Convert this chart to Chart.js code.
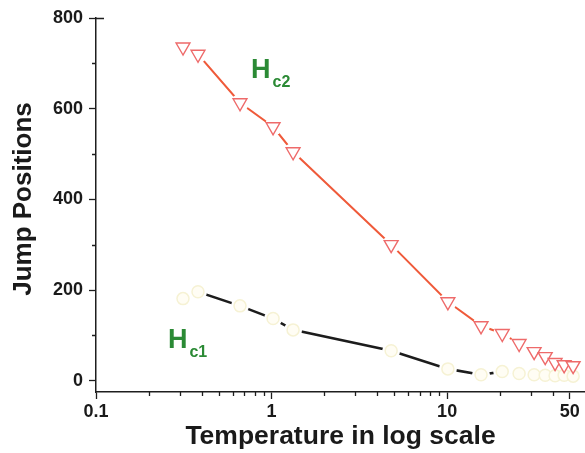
<!DOCTYPE html>
<html>
<head>
<meta charset="utf-8">
<script src="https://cdn.jsdelivr.net/npm/chart.js@4/dist/chart.umd.min.js"></script>
<style>
  html, body { margin: 0; padding: 0; background: #fff; }
  #wrap { width: 585px; height: 453px; }
</style>
</head>
<body>
<div id="wrap"><canvas id="c" width="585" height="453"></canvas></div>
<script>
// Measured jump positions versus temperature (log axis)
const temperatures = [0.313, 0.381, 0.661, 1.02, 1.326, 4.8, 10.1, 15.6, 20.6, 25.7, 31.3, 36.2, 41.2, 46.4, 52.2];
const hc2Jumps = [736, 720, 613, 560, 505, 300, 174, 121, 104, 82, 64, 53, 40, 35, 33];
const hc1Jumps = [181, 196, 165, 137, 112, 66, 26, 13, 20, 16, 13, 12, 11, 12, 10];

// Axis ticks
const xMajorTicks = [0.1, 1, 10, 50];
const xMinorTicks = [0.2, 0.3, 0.4, 0.5, 0.6, 0.7, 0.8, 0.9, 2, 3, 4, 5, 6, 7, 8, 9, 20, 30, 40];
const yMajorTicks = [0, 200, 400, 600, 800];
const yMinorTicks = [100, 300, 500, 700];

// Series labels, anchored in data units
const seriesLabels = [
  { main: 'H', sub: 'c2', x: 0.764, y: 668 },
  { main: 'H', sub: 'c1', x: 0.257, y: 73 }
];

const AXIS = '#1e1e1e';
const RED_LINE = '#ef5a3a';
const RED_MARK = '#ee6a6a';
const GREEN = '#2b8a35';
const PALE = '#f6f2d4';
const FONT = '"Liberation Sans", Arial, sans-serif';

const toPoints = ys => temperatures.map((t, i) => ({ x: t, y: ys[i] }));

// Draws minor ticks, the top corner stub, axis titles and the H labels
const decorations = {
  id: 'decorations',
  afterDraw(chart) {
    const { ctx, chartArea: a, scales: { x, y } } = chart;
    ctx.save();
    ctx.strokeStyle = AXIS;
    ctx.lineWidth = 1.3;
    ctx.beginPath();
    xMinorTicks.forEach(v => {
      const px = Math.round(x.getPixelForValue(v)) + 0.5;
      ctx.moveTo(px, a.bottom);
      ctx.lineTo(px, a.bottom + 4);
    });
    yMinorTicks.forEach(v => {
      const py = Math.round(y.getPixelForValue(v)) + 0.5;
      ctx.moveTo(a.left - 4, py);
      ctx.lineTo(a.left, py);
    });
    const top = Math.round(a.top) + 0.5;
    ctx.moveTo(a.left, top);
    ctx.lineTo(a.left + 8, top);
    ctx.stroke();

    // axis titles
    ctx.fillStyle = '#1a1a1a';
    ctx.font = 'bold 26.5px ' + FONT;
    ctx.textAlign = 'center';
    ctx.textBaseline = 'alphabetic';
    ctx.fillText('Temperature in log scale', (a.left + a.right) / 2, 444);
    ctx.save();
    ctx.translate(31, (a.top + a.bottom) / 2 - 6);
    ctx.rotate(-Math.PI / 2);
    ctx.font = 'bold 26px ' + FONT;
    ctx.fillText('Jump Positions', 0, 0);
    ctx.restore();

    // series labels
    ctx.fillStyle = GREEN;
    ctx.textAlign = 'left';
    seriesLabels.forEach(l => {
      const px = x.getPixelForValue(l.x);
      const py = y.getPixelForValue(l.y);
      ctx.font = 'bold 27px ' + FONT;
      ctx.fillText(l.main, px, py);
      const w = ctx.measureText(l.main).width;
      ctx.font = 'bold 16px ' + FONT;
      ctx.fillText(l.sub, px + w + 2, py + 9);
    });
    ctx.restore();
  }
};

new Chart(document.getElementById('c'), {
  type: 'line',
  data: {
    datasets: [
      // markers (drawn last)
      {
        label: 'Hc2', data: toPoints(hc2Jumps), order: 1, showLine: false,
        pointStyle: 'triangle', rotation: 180, pointRadius: 8,
        pointBackgroundColor: '#ffffff', pointBorderColor: RED_MARK, pointBorderWidth: 1.4
      },
      {
        label: 'Hc1', data: toPoints(hc1Jumps), order: 2, showLine: false,
        pointStyle: 'circle', pointRadius: 6,
        pointBackgroundColor: '#fffdf4', pointBorderColor: PALE, pointBorderWidth: 1.5
      },
      // white halos that open a gap in the lines around each marker
      {
        label: 'gap2', data: toPoints(hc2Jumps), order: 3, showLine: false,
        pointStyle: 'circle', pointRadius: 9, pointBorderWidth: 0,
        pointBackgroundColor: '#ffffff', pointBorderColor: '#ffffff'
      },
      {
        label: 'gap1', data: toPoints(hc1Jumps), order: 4, showLine: false,
        pointStyle: 'circle', pointRadius: 9, pointBorderWidth: 0,
        pointBackgroundColor: '#ffffff', pointBorderColor: '#ffffff'
      },
      // connecting lines (drawn first)
      {
        label: 'line2', data: toPoints(hc2Jumps), order: 5,
        borderColor: RED_LINE, borderWidth: 2, pointRadius: 0, tension: 0, fill: false
      },
      {
        label: 'line1', data: toPoints(hc1Jumps), order: 6,
        borderColor: '#1c1c1c', borderWidth: 2.6, pointRadius: 0, tension: 0, fill: false
      }
    ]
  },
  options: {
    responsive: false,
    animation: false,
    devicePixelRatio: 1,
    layout: { autoPadding: false, padding: { top: 18, right: 0, left: 0, bottom: 0 } },
    plugins: { legend: { display: false }, tooltip: { enabled: false } },
    scales: {
      x: {
        type: 'logarithmic',
        min: 0.1,
        max: 61,
        afterBuildTicks: s => { s.ticks = xMajorTicks.map(v => ({ value: v, major: true })); },
        afterFit: s => { s.height = 61; s.paddingRight = 0; s.paddingLeft = 0; },
        ticks: {
          autoSkip: false, maxRotation: 0, padding: 2,
          color: '#1a1a1a',
          font: { family: FONT, size: 18, weight: 'bold' },
          callback: v => String(v)
        },
        grid: { drawOnChartArea: false, tickLength: 7, color: AXIS, tickWidth: 1.3 },
        border: { color: AXIS, width: 1.5 }
      },
      y: {
        type: 'linear',
        min: -25,
        max: 800,
        afterBuildTicks: s => { s.ticks = yMajorTicks.map(v => ({ value: v })); },
        afterFit: s => { s.width = 96; s.paddingTop = 0; s.paddingBottom = 0; },
        ticks: {
          padding: 6,
          color: '#1a1a1a',
          font: { family: FONT, size: 18, weight: 'bold' },
          callback: v => String(v)
        },
        grid: { drawOnChartArea: false, tickLength: 7, color: AXIS, tickWidth: 1.3 },
        border: { color: AXIS, width: 1.5 }
      }
    }
  },
  plugins: [decorations]
});
</script>
</body>
</html>
